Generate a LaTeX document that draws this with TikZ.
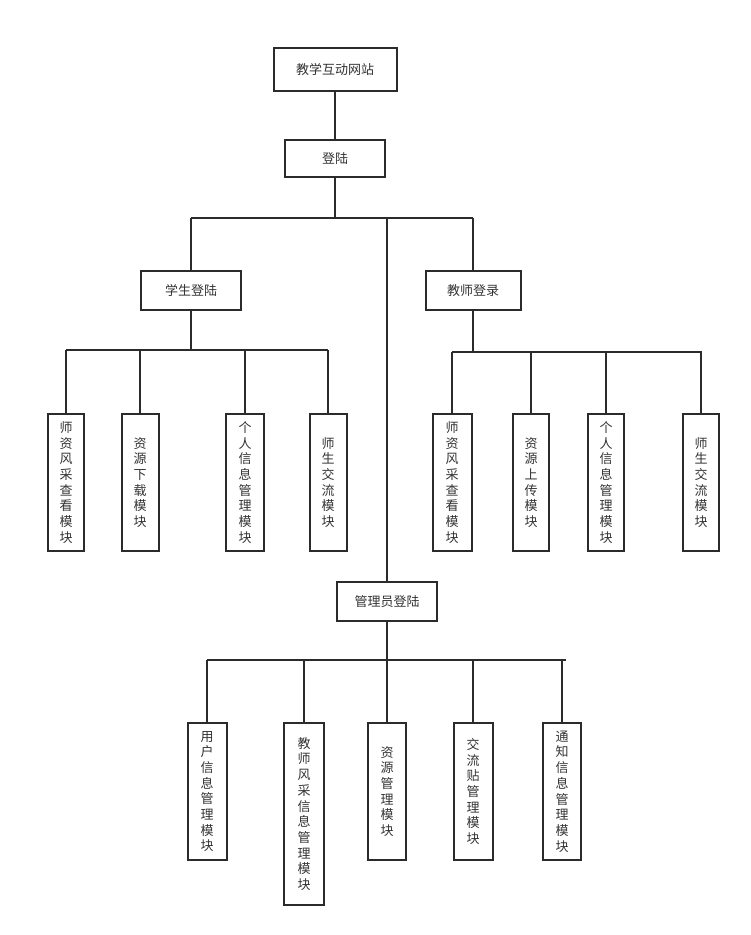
\documentclass[tikz,border=0pt]{standalone}
\usepackage{fontspec}
\newfontfamily\cjk{Noto Sans CJK SC}
\definecolor{linec}{HTML}{2B2B2B}
\definecolor{txtc}{HTML}{333333}
\begin{document}
\begin{tikzpicture}[x=1pt,y=-1pt,
  box/.style={draw=linec, line width=2pt, fill=white, text=txtc, inner sep=0pt, align=center,
    font=\cjk\fontsize{13}{15.7}\selectfont},
  vb/.style={box, minimum height=137pt},
  conn/.style={draw=linec, line width=2pt}]
\useasboundingbox[fill=white] (0,0) rectangle (751,935);
% top level
\node[box, minimum width=123pt, minimum height=43pt] (root) at (335,69.5) {教学互动网站};
\node[box, minimum width=100pt, minimum height=37pt] (login) at (335,158.5) {登陆};
\node[box, minimum width=100pt, minimum height=39pt] (stu) at (191,290.5) {学生登陆};
\node[box, minimum width=95pt, minimum height=39pt] (tea) at (473,290.5) {教师登录};
\node[box, minimum width=100pt, minimum height=39pt] (adm) at (387,601.5) {管理员登陆};
% student modules
\node[vb, minimum width=36pt] (s1) at (66,482.5) {师\\资\\风\\采\\查\\看\\模\\块};
\node[vb, minimum width=37pt] (s2) at (140,482.5) {资\\源\\下\\载\\模\\块};
\node[vb, minimum width=38pt] (s3) at (245,482.5) {个\\人\\信\\息\\管\\理\\模\\块};
\node[vb, minimum width=37pt] (s4) at (328,482.5) {师\\生\\交\\流\\模\\块};
% teacher modules
\node[vb, minimum width=39pt] (t1) at (452,482.5) {师\\资\\风\\采\\查\\看\\模\\块};
\node[vb, minimum width=36pt] (t2) at (531,482.5) {资\\源\\上\\传\\模\\块};
\node[vb, minimum width=36pt] (t3) at (606,482.5) {个\\人\\信\\息\\管\\理\\模\\块};
\node[vb, minimum width=36pt] (t4) at (701,482.5) {师\\生\\交\\流\\模\\块};
% admin modules
\node[vb, minimum width=39pt] (a1) at (207,791.5) {用\\户\\信\\息\\管\\理\\模\\块};
\node[box, minimum width=40pt, minimum height=182pt] (a2) at (304,814) {教\\师\\风\\采\\信\\息\\管\\理\\模\\块};
\node[vb, minimum width=38pt] (a3) at (387,791.5) {资\\源\\管\\理\\模\\块};
\node[vb, minimum width=39pt] (a4) at (473,791.5) {交\\流\\贴\\管\\理\\模\\块};
\node[vb, minimum width=38pt] (a5) at (562,791.5) {通\\知\\信\\息\\管\\理\\模\\块};
% bus coordinates
\coordinate (topL) at (191,218);
\coordinate (topR) at (473,218);
\coordinate (sL) at (66,350);
\coordinate (sR) at (328,350);
\coordinate (tL) at (452,352);
\coordinate (tR) at (702,352);
\coordinate (aL) at (207,660);
\coordinate (aR) at (566,660);
% connectors
\draw[conn] (root.south) -- (login.north);
\draw[conn] (login.south) -- (login.south |- topL);
\draw[conn] (topL) -- (topR);
\draw[conn] (stu.north) -- (stu.north |- topL);
\draw[conn] (tea.north) -- (topR);
\draw[conn] (adm.north) -- (adm.north |- topL);
\draw[conn] (stu.south) -- (stu.south |- sL);
\draw[conn] (sL) -- (sR);
\foreach \n in {s1,s2,s3,s4} \draw[conn] (\n.north) -- (\n.north |- sL);
\draw[conn] (tea.south) -- (tea.south |- tL);
\draw[conn] (tL) -- (tR);
\foreach \n in {t1,t2,t3,t4} \draw[conn] (\n.north) -- (\n.north |- tL);
\draw[conn] (adm.south) -- (adm.south |- aL);
\draw[conn] (aL) -- (aR);
\foreach \n in {a1,a2,a3,a4,a5} \draw[conn] (\n.north) -- (\n.north |- aL);
\end{tikzpicture}
\end{document}
